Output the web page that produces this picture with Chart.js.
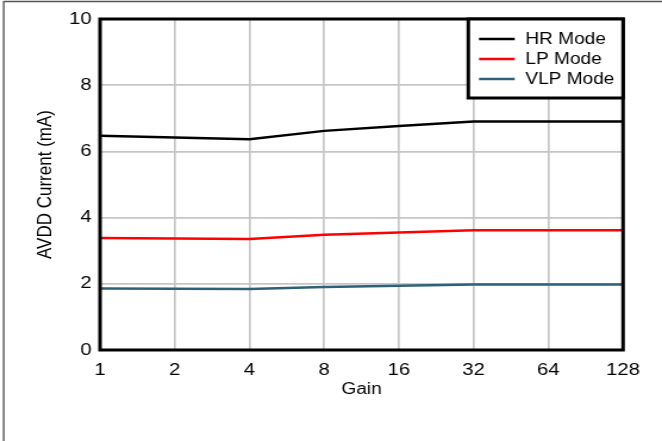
<!DOCTYPE html>
<html>
<head>
<meta charset="utf-8">
<title>AVDD Current vs Gain</title>
<script src="https://cdn.jsdelivr.net/npm/chart.js@4/dist/chart.umd.min.js"></script>
<style>
  html, body { margin: 0; padding: 0; background: #fff; }
  /* the reference is stretched sideways, so draw narrow and widen with CSS */
  #chart { display: block; width: 662px !important; height: 441px !important; }
</style>
</head>
<body>
<canvas id="chart" width="556" height="441" style="width:662px;height:441px"></canvas>
<script>
/* Values */
var gains = ['1', '2', '4', '8', '16', '32', '64', '128'];
var hrMode = [6.47, 6.42, 6.37, 6.62, 6.77, 6.90, 6.90, 6.90];
var lpMode = [3.38, 3.37, 3.35, 3.48, 3.55, 3.62, 3.62, 3.62];
var vlpMode = [1.86, 1.85, 1.84, 1.90, 1.94, 1.98, 1.98, 1.98];
var yMin = 0, yMax = 10, yStep = 2;

var FONT = "'Liberation Sans', Arial, sans-serif";
var COLOURS = { hr: '#000000', lp: '#ff0000', vlp: '#2f6079', grid: '#c6c6c6' };

/* Outer frame (top + left only), plot border, and the boxed legend */
var framePlugin = {
  id: 'frame',
  beforeDraw: function(chart) {
    var ctx = chart.ctx;
    ctx.save();
    ctx.strokeStyle = '#555';
    ctx.lineWidth = 1.4;
    ctx.beginPath();
    ctx.moveTo(3, 1.5); ctx.lineTo(chart.width, 1.5);
    ctx.moveTo(3.1, 1); ctx.lineTo(3.1, chart.height);
    ctx.stroke();
    ctx.restore();
  },
  afterDraw: function(chart) {
    var ctx = chart.ctx;
    var a = chart.chartArea;
    ctx.save();
    ctx.strokeStyle = '#000';
    ctx.lineWidth = 3;
    ctx.strokeRect(a.left, a.top, a.right - a.left, a.bottom - a.top);

    /* legend box in the top right corner */
    var bx = a.right - 130, by = a.top, bw = 130, bh = 79;
    ctx.fillStyle = '#fff';
    ctx.fillRect(bx, by, bw, bh);
    ctx.strokeRect(bx, by, bw, bh);
    ctx.font = '16px ' + FONT;
    ctx.textBaseline = 'middle';
    chart.data.datasets.forEach(function(ds, i) {
      var y = by + 20 + i * 20;
      ctx.strokeStyle = ds.borderColor;
      ctx.lineWidth = 2.5;
      ctx.beginPath();
      ctx.moveTo(bx + 9, y); ctx.lineTo(bx + 39, y);
      ctx.stroke();
      ctx.fillStyle = '#000';
      ctx.fillText(ds.label, bx + 48, y + 1);
    });
    ctx.restore();
  }
};

new Chart(document.getElementById('chart'), {
  type: 'line',
  data: {
    labels: gains,
    datasets: [
      { label: 'HR Mode', data: hrMode, borderColor: COLOURS.hr, borderWidth: 2.5 },
      { label: 'LP Mode', data: lpMode, borderColor: COLOURS.lp, borderWidth: 2.5 },
      { label: 'VLP Mode', data: vlpMode, borderColor: COLOURS.vlp, borderWidth: 2.5 }
    ]
  },
  options: {
    responsive: false,
    devicePixelRatio: 1,
    animation: false,
    layout: { padding: { left: 28.4, top: 19, right: 32.7, bottom: 41.8 } },
    elements: { point: { radius: 0 }, line: { tension: 0 } },
    plugins: { legend: { display: false }, tooltip: { enabled: false } },
    scales: {
      x: {
        type: 'category',
        grid: { color: COLOURS.grid, lineWidth: 1.7, drawTicks: false },
        border: { display: false },
        ticks: { color: '#000', padding: 10, font: { family: FONT, size: 17 }, maxRotation: 0 },
        title: { display: true, text: 'Gain', color: '#000', padding: 0, font: { family: FONT, size: 16 } },
        afterFit: function(scale) { scale.height = 49.2; }
      },
      y: {
        min: yMin,
        max: yMax,
        grid: { color: COLOURS.grid, lineWidth: 1.7, drawTicks: false },
        border: { display: false },
        ticks: { stepSize: yStep, color: '#000', padding: 7, font: { family: FONT, size: 17 } },
        title: { display: true, text: 'AVDD Current (mA)', color: '#000', padding: 0, font: { family: FONT, size: 17 } },
        afterFit: function(scale) { scale.width = 55.6; }
      }
    }
  },
  plugins: [framePlugin]
});
</script>
</body>
</html>
